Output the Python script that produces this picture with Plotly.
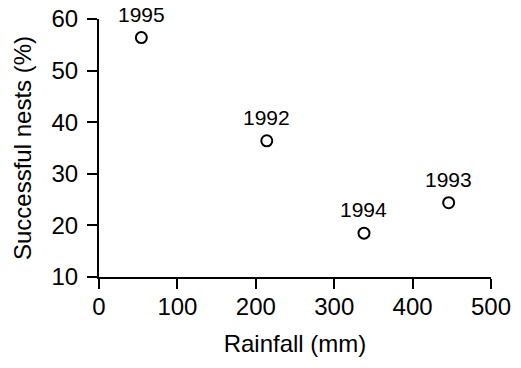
import plotly.graph_objects as go

years = ["1995", "1992", "1994", "1993"]
rainfall = [54, 214, 338, 446]
success = [56.4, 36.4, 18.5, 24.4]

x_ticks = [0, 100, 200, 300, 400, 500]
y_ticks = [10, 20, 30, 40, 50, 60]

FONT = "Liberation Sans, Arial, sans-serif"

fig = go.Figure(go.Scatter(
    x=rainfall, y=success, mode="markers",
    marker=dict(symbol="circle-open", size=11, color="black", line=dict(width=2)),
    cliponaxis=False, hoverinfo="skip",
))

for yr, xv, yv in zip(years, rainfall, success):
    fig.add_annotation(
        x=xv, y=yv, text=yr, showarrow=False,
        xanchor="center", yanchor="bottom", yshift=10,
        font=dict(family=FONT, size=21, color="black"),
    )

fig.update_layout(
    width=521, height=368,
    margin=dict(l=99, r=30, t=19, b=91, autoexpand=False),
    paper_bgcolor="white", plot_bgcolor="white",
    showlegend=False,
    font=dict(family=FONT, color="black"),
)
fig.update_xaxes(
    range=[0, 500], tickvals=x_ticks, ticktext=[str(v) for v in x_ticks],
    automargin=False, ticklabeloverflow="allow",
    showgrid=False, zeroline=False, showline=True, linecolor="black", linewidth=2,
    ticks="outside", ticklen=10, tickwidth=2, tickcolor="black",
    tickfont=dict(size=24), ticklabelstandoff=-3,
    title=dict(text="Rainfall (mm)", font=dict(size=24), standoff=16),
)
fig.update_yaxes(
    range=[10, 60], tickvals=y_ticks, ticktext=[str(v) for v in y_ticks],
    automargin=False, ticklabeloverflow="allow",
    showgrid=False, zeroline=False, showline=True, linecolor="black", linewidth=2,
    ticks="outside", ticklen=10, tickwidth=2, tickcolor="black",
    tickfont=dict(size=24), ticklabelstandoff=4,
    title=dict(text="Successful nests (%)", font=dict(size=24), standoff=13),
)

fig.write_html("out.html", config={"displayModeBar": False},
               post_script="document.body.style.margin='0';")
